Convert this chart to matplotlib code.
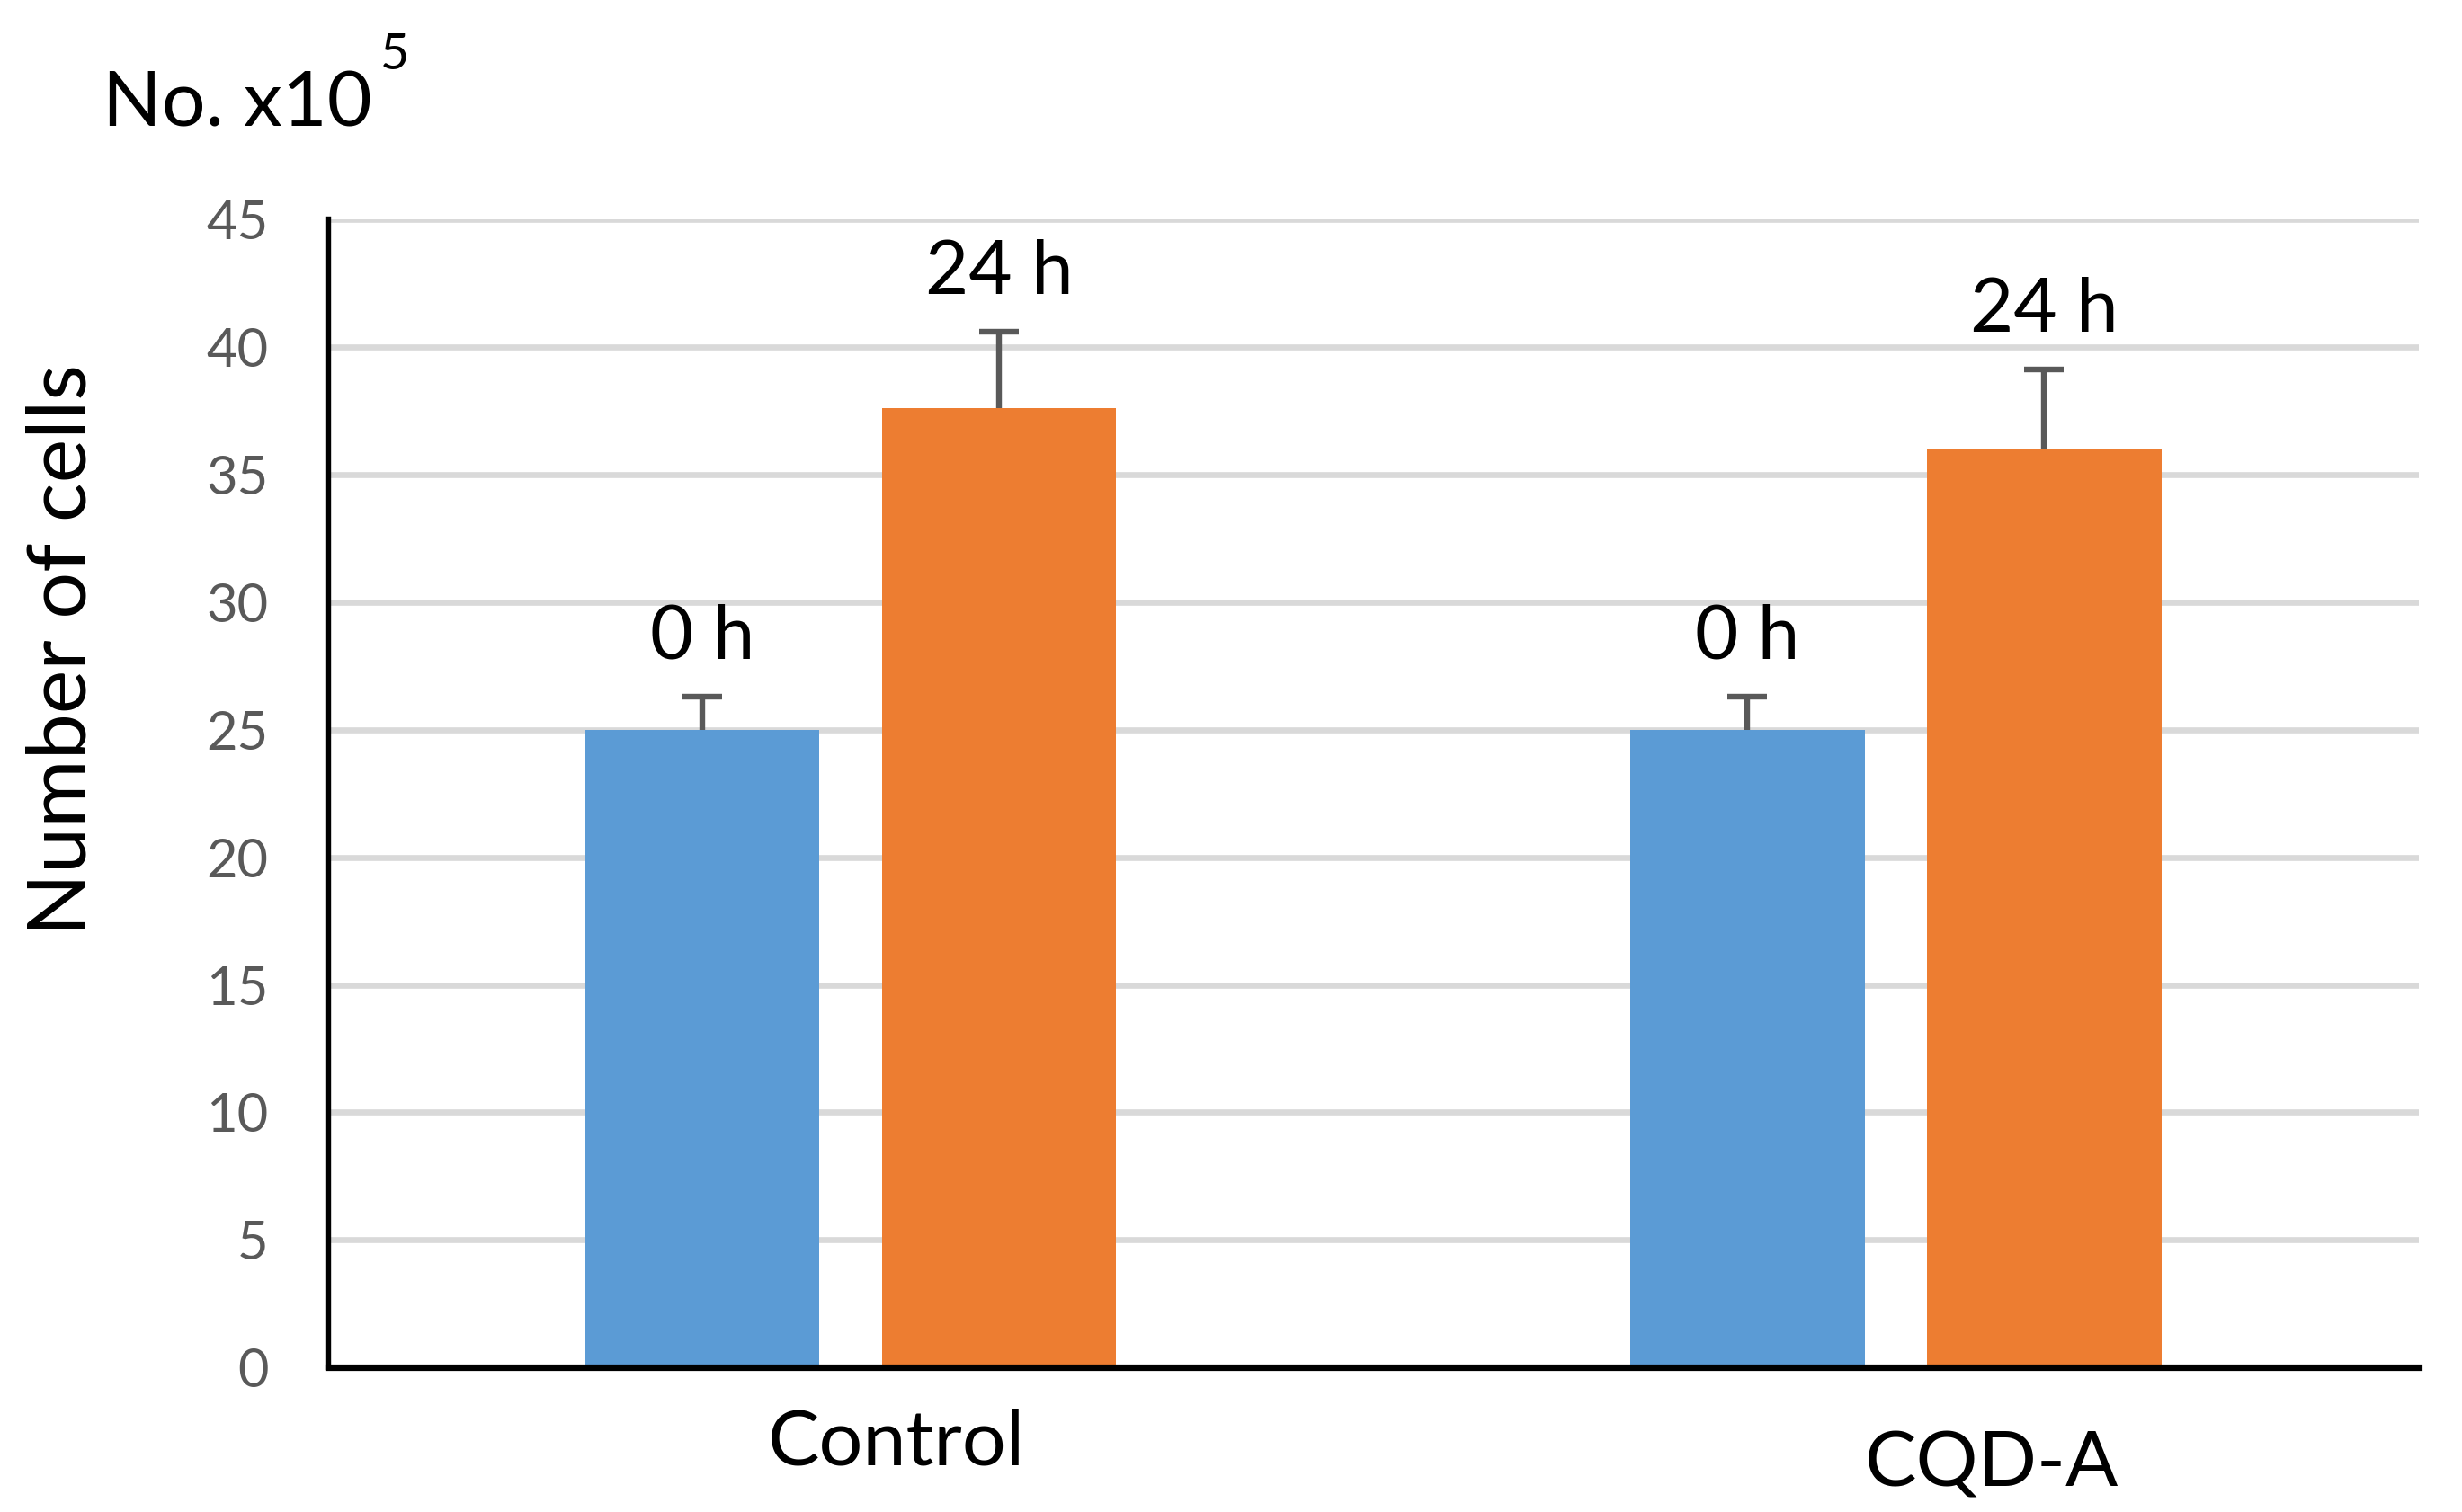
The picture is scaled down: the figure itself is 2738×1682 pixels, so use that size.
import matplotlib
matplotlib.use('Agg')
import matplotlib.pyplot as plt
import numpy as np

# data
groups = ['Control', 'CQD-A']
times = ['0 h', '24 h']
cells_0h = [25.0, 25.0]
cells_24h = [37.6, 36.0]
err_0h = [1.3, 1.3]
err_24h = [3.0, 3.1]

BLUE = '#5B9BD5'
ORANGE = '#ED7D31'
GREY = '#595959'

plt.rcParams['font.family'] = ['Lato', 'DejaVu Sans']

fig = plt.figure(figsize=(13.69, 8.41), dpi=200)
ax = fig.add_axes([0.1333, 0.0955, 0.849, 0.7595])

x = np.arange(len(groups)) + 0.5
width = 0.224
off = 0.142

ax.bar(x - off, cells_0h, width, color=BLUE, zorder=2)
ax.bar(x + off, cells_24h, width, color=ORANGE, zorder=2)

# upper error bars only, labels above them
for xs, vals, errs, lab in [(x - off, cells_0h, err_0h, times[0]),
                            (x + off, cells_24h, err_24h, times[1])]:
    eb = ax.errorbar(xs, vals, yerr=[np.zeros(len(errs)), errs], fmt='none',
                     ecolor=GREY, elinewidth=2.3, capsize=8, capthick=2.3, zorder=3)
    eb[1][0].set_visible(False)
    for xi, v, e in zip(xs, vals, errs):
        ax.text(xi, v + e + 2.3, lab, ha='center', va='center', fontsize=30)

ax.set_xlim(0, 2)
ax.set_ylim(0, 45)
ax.set_yticks(np.arange(0, 46, 5))
ax.set_xticks([])
ax.tick_params(axis='y', length=0, pad=24, labelsize=21.5, labelcolor=GREY)
ax.yaxis.grid(True, color='#D9D9D9', linewidth=2.4, zorder=0)
ax.set_axisbelow(True)

for s in ['top', 'right']:
    ax.spines[s].set_visible(False)
ax.spines['left'].set_linewidth(2.3)
ax.spines['bottom'].set_linewidth(2.6)

# category labels (slightly off-centre in the original)
ax.text(0.544, -2.96, groups[0], ha='center', va='center', fontsize=31)
ax.text(1.592, -3.8, groups[1], ha='center', va='center', fontsize=31)

fig.text(0.0256, 0.570, 'Number of cells', rotation=90, ha='center', va='center',
         fontsize=33)
fig.text(0.0417, 0.9167, 'No. x10', ha='left', va='baseline', fontsize=31)
fig.text(0.1545, 0.954, '5', ha='left', va='baseline', fontsize=20)

fig.savefig('out.png', dpi=200)
